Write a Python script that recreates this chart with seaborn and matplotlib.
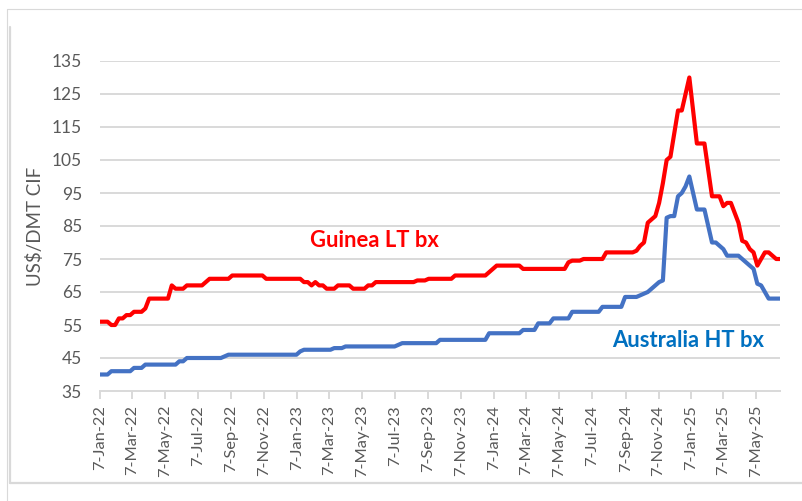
import pandas as pd
import numpy as np
import matplotlib
matplotlib.use('Agg')
import matplotlib.pyplot as plt
import seaborn as sns
from matplotlib.lines import Line2D

# -----------------------------------------------------
# Data: weekly prices (US$/DMT CIF), first week 7-Jan-22
# -----------------------------------------------------
start_date = '2022-01-07'

guinea_lt = [
    56, 56, 56, 55, 55, 57, 57, 58, 58, 59,
    59, 59, 60, 63, 63, 63, 63, 63, 63, 67,
    66, 66, 66, 67, 67, 67, 67, 67, 68, 69,
    69, 69, 69, 69, 69, 70, 70, 70, 70, 70,
    70, 70, 70, 70, 69, 69, 69, 69, 69, 69,
    69, 69, 69, 69, 68, 68, 67, 68, 67, 67,
    66, 66, 66, 67, 67, 67, 67, 66, 66, 66,
    66, 67, 67, 68, 68, 68, 68, 68, 68, 68,
    68, 68, 68, 68, 68.5, 68.5, 68.5, 69, 69, 69,
    69, 69, 69, 69, 70, 70, 70, 70, 70, 70,
    70, 70, 70, 71, 72, 73, 73, 73, 73, 73,
    73, 73, 72, 72, 72, 72, 72, 72, 72, 72,
    72, 72, 72, 72, 74, 74.5, 74.5, 74.5, 75, 75,
    75, 75, 75, 75, 77, 77, 77, 77, 77, 77,
    77, 77, 77.5, 79, 80, 86, 87, 88, 92, 98,
    105, 106, 113, 120, 120, 125, 130, 120, 110, 110,
    110, 102, 94, 94, 94, 91, 92, 92, 89, 86,
    80.5, 80, 78, 77, 73, 75, 77, 77, 76, 75,
    75,
]

australia_ht = [
    40, 40, 40, 41, 41, 41, 41, 41, 41, 42,
    42, 42, 43, 43, 43, 43, 43, 43, 43, 43,
    43, 44, 44, 45, 45, 45, 45, 45, 45, 45,
    45, 45, 45, 45.5, 46, 46, 46, 46, 46, 46,
    46, 46, 46, 46, 46, 46, 46, 46, 46, 46,
    46, 46, 46, 47, 47.5, 47.5, 47.5, 47.5, 47.5, 47.5,
    47.5, 47.5, 48, 48, 48, 48.5, 48.5, 48.5, 48.5, 48.5,
    48.5, 48.5, 48.5, 48.5, 48.5, 48.5, 48.5, 48.5, 48.5, 49,
    49.5, 49.5, 49.5, 49.5, 49.5, 49.5, 49.5, 49.5, 49.5, 49.5,
    50.5, 50.5, 50.5, 50.5, 50.5, 50.5, 50.5, 50.5, 50.5, 50.5,
    50.5, 50.5, 50.5, 52.5, 52.5, 52.5, 52.5, 52.5, 52.5, 52.5,
    52.5, 52.5, 53.5, 53.5, 53.5, 53.5, 55.5, 55.5, 55.5, 55.5,
    57, 57, 57, 57, 57, 59, 59, 59, 59, 59,
    59, 59, 59, 60.5, 60.5, 60.5, 60.5, 60.5, 60.5, 63.5,
    63.5, 63.5, 63.5, 64, 64.5, 65, 66, 67, 68, 68.5,
    87.5, 88, 88, 94, 95, 97, 100, 95, 90, 90,
    90, 85, 80, 80, 79, 78, 76, 76, 76, 76,
    75, 74, 73, 72, 67.5, 67, 65, 63, 63, 63,
    63,
]

y_ticks = [35, 45, 55, 65, 75, 85, 95, 105, 115, 125, 135]
label_guinea = 'Guinea LT bx'
label_australia = 'Australia HT bx'
y_label = 'US$/DMT CIF'

# -----------------------------------------------------
# Frame data
# -----------------------------------------------------
dates = pd.date_range(start_date, periods=len(guinea_lt), freq='7D')
df = pd.DataFrame({'date': dates, 'guinea': guinea_lt, 'australia': australia_ht})

tick_dates = pd.date_range('2022-01-01', '2025-05-31', freq='2MS') + pd.Timedelta(days=6)
tick_labels = [f"{d.day}-{d.strftime('%b-%y')}" for d in tick_dates]

# -----------------------------------------------------
# Style
# -----------------------------------------------------
sns.set_theme(style='white')
plt.rcParams['font.family'] = ['Lato', 'DejaVu Sans']

RED = '#FF0000'
BLUE = '#4472C4'
GRID = '#D9D9D9'
TEXT = '#595959'

W, H = 802, 501
fig = plt.figure(figsize=(W / 100, H / 100), dpi=100)
ax = fig.add_axes([100 / W, 1 - 391 / H, 680 / W, 330 / H])

sns.lineplot(data=df, x='date', y='guinea', color=RED, linewidth=3.0, ax=ax)
sns.lineplot(data=df, x='date', y='australia', color=BLUE, linewidth=3.0, ax=ax)

ax.set_xlim(dates[0], dates[-1])
ax.set_ylim(35, 135)
ax.set_yticks(y_ticks)
ax.set_xticks(tick_dates)
ax.set_xticklabels(tick_labels, rotation=90)

for yv in y_ticks[1:]:
    ax.axhline(yv, color=GRID, linewidth=1.4, zorder=0)

for side in ['top', 'right', 'left']:
    ax.spines[side].set_visible(False)
ax.spines['bottom'].set_color(GRID)
ax.spines['bottom'].set_linewidth(1.4)

ax.tick_params(axis='x', direction='out', length=6, width=1.4, color=GRID,
               labelsize=11.8, labelcolor=TEXT, pad=4, bottom=True)
ax.tick_params(axis='y', length=0, labelsize=12.5, labelcolor=TEXT, pad=13)

ax.set_xlabel('')
ax.set_ylabel('')
fig.text(35 / W, 1 - 226 / H, y_label, rotation=90, ha='center', va='center',
         fontsize=13.5, color=TEXT)

ax.text(0.403, 0.455, label_guinea, transform=ax.transAxes, ha='center', va='center',
        fontsize=15.8, fontweight='bold', color=RED)
ax.text(0.865, 0.152, label_australia, transform=ax.transAxes, ha='center', va='center',
        fontsize=15.8, fontweight='bold', color='#0070C0')

# chart frame lines (screenshot borders)
def fline(x0, y0, x1, y1, lw):
    fig.add_artist(Line2D([x0 / W, x1 / W], [1 - y0 / H, 1 - y1 / H],
                          transform=fig.transFigure, color=GRID, linewidth=lw))

fline(7, 9, 7, 501, 0.8)
fline(7, 9, 802, 9, 0.8)
fline(10, 27, 10, 483, 1.6)
fline(10, 483, 802, 483, 1.6)

fig.savefig('out.png', dpi=100)
plt.close(fig)
